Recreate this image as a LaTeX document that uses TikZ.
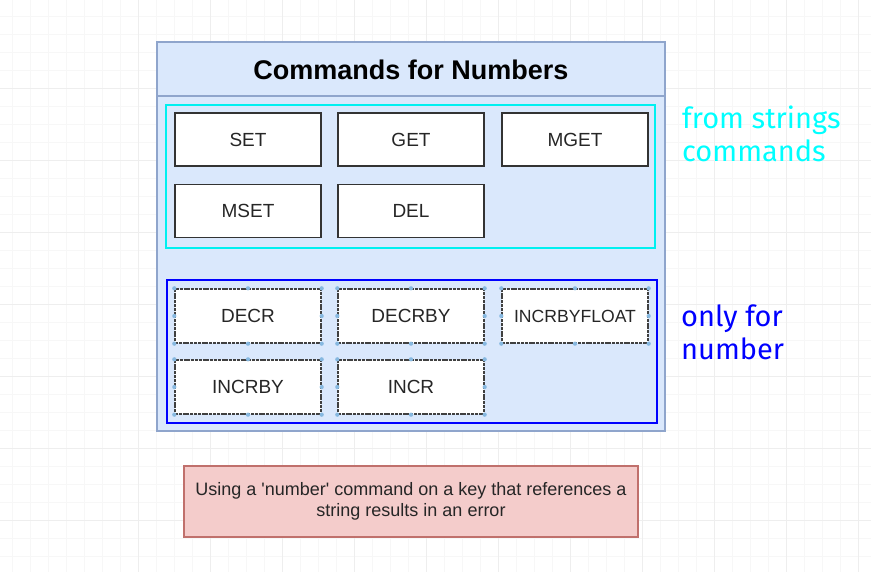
\documentclass[tikz,border=0pt]{standalone}
\usepackage{fontspec}
\setmainfont{Liberation Sans}
\newfontfamily\sidefont{Fira Sans}
\definecolor{fillblue}{HTML}{DAE8FC}
\definecolor{strokeblue}{HTML}{8FA5CC}
\definecolor{cmdgray}{HTML}{333333}
\definecolor{notefill}{HTML}{F4CCCB}
\definecolor{notestroke}{HTML}{C0706C}
\definecolor{handleblue}{HTML}{86B8E0}
\definecolor{cyanline}{HTML}{00F0F0}
\definecolor{cyantext}{HTML}{00FFFF}
\definecolor{gridminor}{HTML}{F7F7F7}
\definecolor{gridmajor}{HTML}{EEEEEE}
\begin{document}
\begin{tikzpicture}[x=1pt,y=-1pt,
  outerbox/.style={draw=strokeblue, fill=fillblue, line width=1.5pt, inner sep=0pt,
    minimum width=508pt, minimum height=389pt},
  groupbox/.style={draw=#1, line width=2.4pt, inner sep=0pt,
    minimum width=489pt, minimum height=143pt},
  cmdbox/.style={draw=cmdgray, fill=white, line width=1.4pt, inner sep=0pt,
    minimum width=146pt, minimum height=53pt, text=black!85,
    font=\fontsize{19}{22}\selectfont},
  numbox/.style={cmdbox, dash pattern=on 3pt off 0.8pt, draw=black!75},
  handle/.style={fill=handleblue},
  titletext/.style={font=\bfseries\fontsize{27}{32}\selectfont, text=black},
  sidetext/.style={font=\sidefont\fontsize{29}{33}\selectfont, align=left, inner sep=0pt},
  notebox/.style={draw=notestroke, fill=notefill, line width=1.3pt, inner sep=0pt,
    minimum width=454pt, minimum height=71pt, align=center, text=black!85,
    font=\fontsize{18}{21}\selectfont}
]
\useasboundingbox (0,0) rectangle (871,572);
\fill[white] (0,0) rectangle (871,572);
% background grid
\foreach \x in {12,30,...,870} \draw[gridminor, line width=0.7pt] (\x,0) -- (\x,572);
\foreach \y in {16,34,...,571} \draw[gridminor, line width=0.7pt] (0,\y) -- (871,\y);
\foreach \x in {138,210,...,870} \draw[gridmajor, line width=0.9pt] (\x,0) -- (\x,572);
\foreach \y in {88,160,...,571} \draw[gridmajor, line width=0.9pt] (0,\y) -- (871,\y);

% outer container
\node[outerbox] (outer) at (411,236.5) {};
\coordinate (hdr) at (411,96);
\draw[strokeblue, line width=1.3pt] (outer.west |- hdr) -- (outer.east |- hdr);
\node[titletext] (title) at (411,70) {Commands for Numbers};

% strings group
\node[groupbox=cyanline] (strgrp) at (410.5,176.5) {};
\node[cmdbox] (set)  at (248,139.5) {SET};
\node[cmdbox] (get)  at (411,139.5) {GET};
\node[cmdbox] (mget) at (575,139.5) {MGET};
\node[cmdbox] (mset) at (248,211) {MSET};
\node[cmdbox] (del)  at (411,211) {DEL};

% number group
\node[groupbox=blue, minimum width=490pt] (numgrp) at (412,351.5) {};
\node[numbox, minimum height=54pt] (decr)   at (248,316) {DECR};
\node[numbox, minimum height=54pt] (decrby) at (411,316) {DECRBY};
\node[numbox, minimum height=54pt, font=\fontsize{17.6}{20}\selectfont] (incrbyfloat) at (575,316) {INCRBYFLOAT};
\node[numbox, minimum height=54pt] (incrby) at (248,387) {INCRBY};
\node[numbox, minimum height=54pt] (incr)   at (411,387) {INCR};
\foreach \n in {decr,decrby,incrbyfloat,incrby,incr}{
  \foreach \a in {north west,north,north east,east,south east,south,south west,west}
    \fill[handle] (\n.\a) circle (2.1pt);
}

% side labels
\node[sidetext, text=cyantext, anchor=north west] (fromstr) at (682,106) {from strings\\commands};
\node[sidetext, text=blue, anchor=north west] (onlynum) at (681,305) {only for\\number};

% note
\node[notebox] (note) at (411,501.5) {Using a \textquotesingle number\textquotesingle{} command on a key that references a\\string results in an error};
\end{tikzpicture}
\end{document}
